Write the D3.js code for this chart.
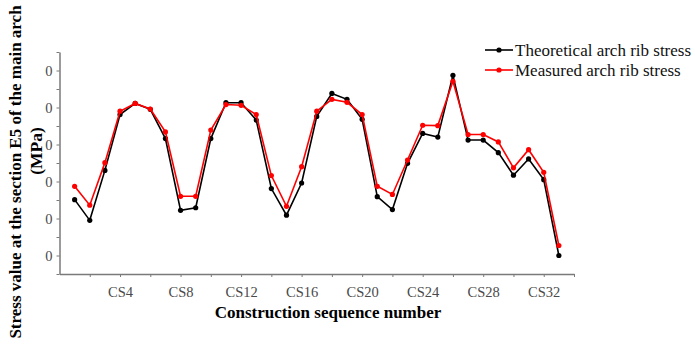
<!DOCTYPE html>
<html>
<head>
<meta charset="utf-8">
<script src="https://cdn.jsdelivr.net/npm/d3@7"></script>
<style>
  body { margin: 0; background: #fff; }
  svg { display: block; font-family: "Liberation Serif", "Times New Roman", serif; }
</style>
</head>
<body>
<div id="chart"></div>
<script>
const steps = d3.range(1, 34);   // CS1 .. CS33
const theoretical = [1.51, 0.95, 2.30, 3.81, 4.11, 3.95, 3.16, 1.22, 1.29, 3.16,
    4.13, 4.13, 3.66, 1.81, 1.09, 1.96, 3.76, 4.38, 4.22, 3.68,
    1.59, 1.24, 2.49, 3.30, 3.20, 4.87, 3.12, 3.12, 2.78, 2.17,
    2.61, 2.05, 0.00];
const measured = [1.87, 1.36, 2.51, 3.90, 4.11, 3.96, 3.34, 1.60, 1.60, 3.39,
    4.08, 4.06, 3.81, 2.16, 1.33, 2.40, 3.90, 4.22, 4.14, 3.81,
    1.87, 1.65, 2.58, 3.52, 3.51, 4.71, 3.27, 3.27, 3.07, 2.37,
    2.86, 2.25, 0.27];
const yTicks = [0, 1, 2, 3, 4, 5];
const yTickLabels = ["0", "0", "0", "0", "0", "0"];
const xTicks = [4, 8, 12, 16, 20, 24, 28, 32];

const width = 695, height = 349,
    margin = ({ top: 52, right: 121, bottom: 75, left: 59.5 });

const svg = d3.select("#chart")
    .append("svg")
    .attr("width", width)
    .attr("height", height);

let x = d3.scaleLinear()
    .domain([0, 34])
    .range([margin.left, width - margin.right]);

let y = d3.scaleLinear()
    .domain([-0.5, 5.5])
    .range([height - margin.bottom, margin.top]);

const axisColor = "#7a7a7a";

// x axis
const gx = svg.append("g")
    .attr("transform", `translate(0,${height - margin.bottom})`)
    .call(d3.axisBottom(x)
        .tickValues(d3.range(2, 35, 2))
        .tickSize(3)
        .tickSizeOuter(0)
        .tickFormat(d => xTicks.includes(d) ? "CS" + d : ""));
gx.select(".domain").attr("stroke", axisColor).attr("stroke-width", 1.5);
gx.selectAll(".tick line").attr("stroke", axisColor);
gx.selectAll(".tick text")
    .attr("fill", "#4a4a4a")
    .attr("dy", "1.15em")
    .style("font-size", "14.5px")
    .style("font-family", "Liberation Serif, serif");

// y axis
const gy = svg.append("g")
    .attr("transform", `translate(${margin.left},0)`)
    .call(d3.axisLeft(y)
        .tickValues(d3.range(-0.5, 5.51, 0.5))
        .tickSize(3)
        .tickSizeOuter(0)
        .tickFormat(d => yTicks.includes(d) ? yTickLabels[yTicks.indexOf(d)] : ""));
gy.select(".domain").attr("stroke", axisColor).attr("stroke-width", 1.5);
gy.selectAll(".tick line").attr("stroke", axisColor);
gy.selectAll(".tick text")
    .attr("fill", "#4a4a4a")
    .attr("x", -7)
    .style("font-size", "14.5px")
    .style("font-family", "Liberation Serif, serif");

// axis titles
svg.append("text")
    .attr("x", 328)
    .attr("y", 318)
    .attr("text-anchor", "middle")
    .attr("font-weight", "bold")
    .attr("font-size", 17)
    .text("Construction sequence number");

svg.append("text")
    .attr("transform", "translate(21,172) rotate(-90)")
    .attr("text-anchor", "middle")
    .attr("font-weight", "bold")
    .attr("font-size", 17)
    .text("Stress value at the section E5 of the main arch");

svg.append("text")
    .attr("transform", "translate(42,151) rotate(-90)")
    .attr("text-anchor", "middle")
    .attr("font-weight", "bold")
    .attr("font-size", 17.5)
    .text("(MPa)");

// series
const series = [
    { name: "Theoretical arch rib stress", values: theoretical, color: "#000" },
    { name: "Measured arch rib stress", values: measured, color: "#f00" }
];

const line = d3.line()
    .x((d, i) => x(steps[i]))
    .y(d => y(d));

for (let s of series) {
    svg.append("path")
        .datum(s.values)
        .attr("fill", "none")
        .attr("stroke", s.color)
        .attr("stroke-width", 1.6)
        .attr("d", line);

    svg.append("g")
        .attr("fill", s.color)
        .selectAll("circle")
        .data(s.values)
        .join("circle")
        .attr("cx", (d, i) => x(steps[i]))
        .attr("cy", d => y(d))
        .attr("r", 2.6);
}

// legend
const legend = svg.append("g")
    .selectAll("g")
    .data(series)
    .join("g")
    .attr("transform", (d, i) => `translate(485,${50 + i * 20})`);

legend.append("line")
    .attr("x1", 0).attr("x2", 28)
    .attr("stroke", d => d.color)
    .attr("stroke-width", 1.6);
legend.append("circle")
    .attr("cx", 14)
    .attr("r", 2.6)
    .attr("fill", d => d.color);
legend.append("text")
    .attr("x", 30)
    .attr("y", 5.5)
    .attr("font-size", 17)
    .attr("fill", "#111")
    .text(d => d.name);
</script>
</body>
</html>
